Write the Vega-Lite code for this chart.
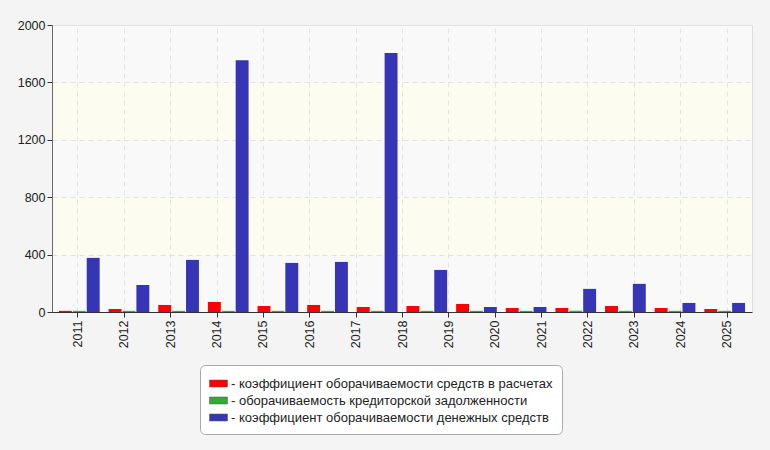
{
  "$schema": "https://vega.github.io/schema/vega-lite/v6.json",
  "width": 700,
  "height": 287,
  "autosize": "none",
  "padding": {"left": 52, "top": 25, "right": 18, "bottom": 138},
  "background": "#f4f4f4",
  "datasets": {
    "bands": [
      {"lo": 0, "hi": 400, "kind": "hatch"},
      {"lo": 400, "hi": 800, "kind": "cream"},
      {"lo": 800, "hi": 1200, "kind": "hatch"},
      {"lo": 1200, "hi": 1600, "kind": "cream"},
      {"lo": 1600, "hi": 2000, "kind": "hatch"}
    ],
    "years": [
      {"year": "2011"}, {"year": "2012"}, {"year": "2013"}, {"year": "2014"}, {"year": "2015"},
      {"year": "2016"}, {"year": "2017"}, {"year": "2018"}, {"year": "2019"}, {"year": "2020"},
      {"year": "2021"}, {"year": "2022"}, {"year": "2023"}, {"year": "2024"}, {"year": "2025"}
    ],
    "bars": [
      {"period": 1, "series": "коэффициент оборачиваемости средств в расчетах", "value": 8},
      {"period": 1, "series": "оборачиваемость кредиторской задолженности", "value": 8},
      {"period": 1, "series": "коэффициент оборачиваемости денежных средств", "value": 377},
      {"period": 2, "series": "коэффициент оборачиваемости средств в расчетах", "value": 21},
      {"period": 2, "series": "оборачиваемость кредиторской задолженности", "value": 8},
      {"period": 2, "series": "коэффициент оборачиваемости денежных средств", "value": 188},
      {"period": 3, "series": "коэффициент оборачиваемости средств в расчетах", "value": 49},
      {"period": 3, "series": "оборачиваемость кредиторской задолженности", "value": 8},
      {"period": 3, "series": "коэффициент оборачиваемости денежных средств", "value": 363},
      {"period": 4, "series": "коэффициент оборачиваемости средств в расчетах", "value": 70},
      {"period": 4, "series": "оборачиваемость кредиторской задолженности", "value": 8},
      {"period": 4, "series": "коэффициент оборачиваемости денежных средств", "value": 1755},
      {"period": 5, "series": "коэффициент оборачиваемости средств в расчетах", "value": 42},
      {"period": 5, "series": "оборачиваемость кредиторской задолженности", "value": 8},
      {"period": 5, "series": "коэффициент оборачиваемости денежных средств", "value": 342},
      {"period": 6, "series": "коэффициент оборачиваемости средств в расчетах", "value": 49},
      {"period": 6, "series": "оборачиваемость кредиторской задолженности", "value": 8},
      {"period": 6, "series": "коэффициент оборачиваемости денежных средств", "value": 349},
      {"period": 7, "series": "коэффициент оборачиваемости средств в расчетах", "value": 35},
      {"period": 7, "series": "оборачиваемость кредиторской задолженности", "value": 8},
      {"period": 7, "series": "коэффициент оборачиваемости денежных средств", "value": 1805},
      {"period": 8, "series": "коэффициент оборачиваемости средств в расчетах", "value": 42},
      {"period": 8, "series": "оборачиваемость кредиторской задолженности", "value": 8},
      {"period": 8, "series": "коэффициент оборачиваемости денежных средств", "value": 293},
      {"period": 9, "series": "коэффициент оборачиваемости средств в расчетах", "value": 56},
      {"period": 9, "series": "оборачиваемость кредиторской задолженности", "value": 8},
      {"period": 9, "series": "коэффициент оборачиваемости денежных средств", "value": 35},
      {"period": 10, "series": "коэффициент оборачиваемости средств в расчетах", "value": 28},
      {"period": 10, "series": "оборачиваемость кредиторской задолженности", "value": 8},
      {"period": 10, "series": "коэффициент оборачиваемости денежных средств", "value": 35},
      {"period": 11, "series": "коэффициент оборачиваемости средств в расчетах", "value": 28},
      {"period": 11, "series": "оборачиваемость кредиторской задолженности", "value": 8},
      {"period": 11, "series": "коэффициент оборачиваемости денежных средств", "value": 161},
      {"period": 12, "series": "коэффициент оборачиваемости средств в расчетах", "value": 42},
      {"period": 12, "series": "оборачиваемость кредиторской задолженности", "value": 8},
      {"period": 12, "series": "коэффициент оборачиваемости денежных средств", "value": 196},
      {"period": 13, "series": "коэффициент оборачиваемости средств в расчетах", "value": 28},
      {"period": 13, "series": "оборачиваемость кредиторской задолженности", "value": 8},
      {"period": 13, "series": "коэффициент оборачиваемости денежных средств", "value": 63},
      {"period": 14, "series": "коэффициент оборачиваемости средств в расчетах", "value": 21},
      {"period": 14, "series": "оборачиваемость кредиторской задолженности", "value": 8},
      {"period": 14, "series": "коэффициент оборачиваемости денежных средств", "value": 63}
    ]
  },
  "layer": [
    {
      "data": {"name": "bands"},
      "mark": {"type": "rect", "opacity": 0.3},
      "encoding": {
        "y": {"field": "lo", "type": "quantitative", "scale": {"domain": [0, 2000]}},
        "y2": {"field": "hi"},
        "color": {
          "field": "kind",
          "type": "nominal",
          "scale": {"domain": ["hatch", "cream"], "range": ["#ebebeb", "#f4f4d2"]},
          "legend": null
        }
      }
    },
    {
      "data": {"name": "years"},
      "mark": {"type": "point", "opacity": 0},
      "encoding": {
        "x": {
          "field": "year",
          "type": "ordinal",
          "scale": {"type": "point", "padding": 0.55},
          "axis": {
            "orient": "bottom",
            "title": null,
            "labelAngle": -90,
            "labelFont": "Liberation Sans",
            "labelFontSize": 12.5,
            "labelColor": "#222",
            "domainColor": "#333",
            "tickColor": "#333",
            "grid": true,
            "gridColor": "#dedede",
            "gridDash": [5, 4],
            "labelPadding": 3
          }
        }
      }
    },
    {
      "data": {"name": "bars"},
      "mark": {"type": "bar"},
      "encoding": {
        "x": {
          "field": "period",
          "type": "ordinal",
          "scale": {"paddingInner": 0.18, "paddingOuter": 0.14},
          "axis": null
        },
        "xOffset": {
          "field": "series",
          "type": "nominal",
          "sort": [
            "коэффициент оборачиваемости средств в расчетах",
            "оборачиваемость кредиторской задолженности",
            "коэффициент оборачиваемости денежных средств"
          ],
          "scale": {"paddingInner": 0.07}
        },
        "y": {
          "field": "value",
          "type": "quantitative",
          "scale": {"domain": [0, 2000]},
          "axis": {
            "title": null,
            "values": [0, 400, 800, 1200, 1600, 2000],
            "format": "d",
            "labelFont": "Liberation Sans",
            "labelFontSize": 12.5,
            "labelColor": "#222",
            "domainColor": "#333",
            "tickColor": "#333",
            "gridColor": "#dedede",
            "gridDash": [5, 4]
          }
        },
        "color": {
          "field": "series",
          "type": "nominal",
          "scale": {
            "domain": [
              "коэффициент оборачиваемости средств в расчетах",
              "оборачиваемость кредиторской задолженности",
              "коэффициент оборачиваемости денежных средств"
            ],
            "range": ["#ff0000", "#33aa33", "#3535b5"]
          },
          "legend": {
            "title": null,
            "orient": "none",
            "legendX": 148,
            "legendY": 340,
            "direction": "vertical",
            "fillColor": "#ffffff",
            "strokeColor": "#aaaaaa",
            "cornerRadius": 5,
            "padding": 9,
            "rowPadding": 0,
            "symbolType": "M-1,-0.39h2v0.78h-2z",
            "symbolSize": 324,
            "symbolStrokeColor": "#555555",
            "symbolStrokeWidth": 0.5,
            "symbolOpacity": 1,
            "labelFont": "Liberation Sans",
            "labelFontSize": 13,
            "labelColor": "#222",
            "labelOffset": 3,
            "labelLimit": 400,
            "labelExpr": "'- ' + datum.label"
          }
        }
      }
    }
  ],
  "resolve": {"scale": {"color": "independent", "x": "independent"}},
  "config": {
    "view": {"stroke": "#dddddd", "fill": "#ffffff"},
    "axis": {"tickSize": 5}
  }
}
